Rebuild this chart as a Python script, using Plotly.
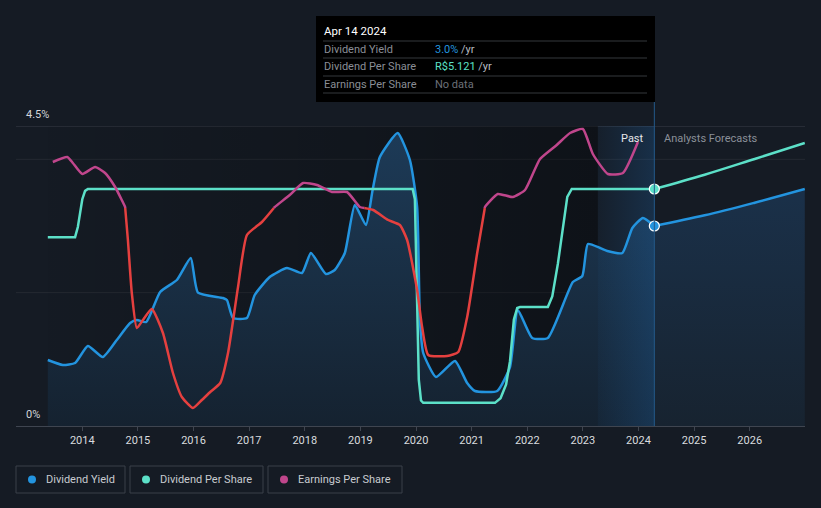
import plotly.graph_objects as go

# ---------------- data (x as decimal years) ----------------
yield_t = [2013.38, 2013.65, 2013.87, 2014.10, 2014.37, 2014.62, 2014.86, 2014.98, 2015.15,
           2015.40, 2015.70, 2015.95, 2016.08, 2016.53, 2016.60, 2016.71, 2016.96, 2017.10,
           2017.37, 2017.68, 2017.95, 2018.11, 2018.38, 2018.54, 2018.72, 2018.90, 2019.10,
           2019.22, 2019.35, 2019.67, 2019.89, 2020.02, 2020.07, 2020.13, 2020.36, 2020.70,
           2020.92, 2021.06, 2021.46, 2021.69, 2021.83, 2022.09, 2022.37, 2022.82, 2022.99,
           2023.09, 2023.31, 2023.44, 2023.71, 2023.89, 2024.08, 2024.285]
yield_pct = [0.99, 0.915, 0.945, 1.20, 1.035, 1.29, 1.545, 1.59, 1.56,
             2.01, 2.19, 2.52, 2.00, 1.92, 1.89, 1.62, 1.62, 1.965,
             2.235, 2.37, 2.295, 2.595, 2.28, 2.34, 2.595, 3.315, 3.015,
             3.54, 4.035, 4.395, 3.99, 3.285, 1.59, 1.095, 0.735, 0.975,
             0.645, 0.525, 0.525, 0.885, 1.74, 1.32, 1.32, 2.16, 2.25,
             2.73, 2.67, 2.625, 2.595, 2.97, 3.12, 3.0]
fc_t = [2024.285, 2025.19, 2026.09, 2026.99]
fc_yield = [3.0, 3.16, 3.35, 3.555]

dps_t = [2013.38, 2013.87, 2013.92, 2014.00, 2014.05, 2014.10, 2019.94, 2019.98, 2020.05,
         2020.09, 2020.13, 2021.42, 2021.52, 2021.62, 2021.69, 2021.76, 2021.82, 2021.87,
         2022.37, 2022.45, 2022.55, 2022.64, 2022.72, 2022.80, 2024.285]
dps = [4.08, 4.08, 4.30, 4.90, 5.08, 5.121, 5.121, 4.90, 1.00,
       0.55, 0.50, 0.50, 0.60, 0.90, 1.40, 2.30, 2.55, 2.57,
       2.57, 2.80, 3.50, 4.30, 4.95, 5.121, 5.121]
fc_dps = [5.121, 5.43, 5.77, 6.115]

eps_t = [2013.47, 2013.73, 2013.83, 2014.00, 2014.23, 2014.41, 2014.59, 2014.71, 2014.77,
         2014.82, 2014.89, 2014.98, 2015.09, 2015.25, 2015.45, 2015.63, 2015.79, 2015.99,
         2016.15, 2016.30, 2016.48, 2016.62, 2016.80, 2016.96, 2017.23, 2017.46, 2017.73,
         2017.97, 2018.22, 2018.49, 2018.76, 2018.99, 2019.23, 2019.50, 2019.71, 2019.84,
         2020.02, 2020.11, 2020.22, 2020.56, 2020.76, 2020.92, 2021.10, 2021.24, 2021.47,
         2021.74, 2021.96, 2022.23, 2022.53, 2022.77, 2023.00, 2023.18, 2023.45, 2023.72,
         2023.99]
eps = [6.60, 6.725, 6.575, 6.30, 6.475, 6.325, 5.975, 5.65, 5.475,
       4.65, 3.325, 2.45, 2.65, 2.925, 2.325, 1.325, 0.725, 0.45,
       0.65, 0.85, 1.075, 1.825, 3.475, 4.775, 5.10, 5.475, 5.775,
       6.075, 6.025, 5.85, 5.85, 5.475, 5.40, 5.15, 5.025, 4.65,
       3.40, 2.475, 1.775, 1.75, 1.85, 2.725, 4.325, 5.475, 5.80,
       5.725, 5.90, 6.675, 7.025, 7.325, 7.425, 6.80, 6.30, 6.325,
       7.10]
EPS_SPLIT = 5.45

year_ticks = list(range(2014, 2027))
year_labels = [str(y) for y in year_ticks]

NOW_T = 2024.285
BAND_T0 = 2023.27

# ---------------- style ----------------
BG = "#151b24"
BLUE = "#2394df"
TEAL = "#5ce0c8"
MAGENTA = "#c0468c"
RED = "#e5403f"
FONT = "Roboto"

X0, X1 = 2012.808, 2026.994
L, R, T, B = 16, 16, 126, 82
W, H = 821, 508
PW, PH = W - L - R, H - T - B


def px(xp):
    return (xp - L) / PW


def py(yp):
    return (H - B - yp) / PH


def split(ts, vs, thr):
    hx, hy, lx, ly = [], [], [], []
    for i, (t, v) in enumerate(zip(ts, vs)):
        if i > 0:
            t0, v0 = ts[i - 1], vs[i - 1]
            if (v0 - thr) * (v - thr) < 0:
                tc = t0 + (thr - v0) * (t - t0) / (v - v0)
                if v0 > thr:
                    hx += [tc, None]; hy += [thr, None]
                    lx.append(tc); ly.append(thr)
                else:
                    lx += [tc, None]; ly += [thr, None]
                    hx.append(tc); hy.append(thr)
        if v >= thr:
            hx.append(t); hy.append(v)
        else:
            lx.append(t); ly.append(v)
    return hx, hy, lx, ly


fig = go.Figure()

# darkening of past region (horizontal gradient)
fig.add_trace(go.Scatter(
    x=[yield_t[0], BAND_T0, BAND_T0, yield_t[0], yield_t[0]], y=[0, 0, 4.5, 4.5, 0],
    fill="toself", mode="lines", line=dict(width=0),
    fillgradient=dict(type="horizontal", start=yield_t[0], stop=BAND_T0,
                      colorscale=[[0, "rgba(0,0,0,0.03)"], [1, "rgba(0,0,0,0.33)"]]),
    hoverinfo="skip", showlegend=False))

# yield area (past)
fig.add_trace(go.Scatter(
    x=yield_t, y=yield_pct, mode="lines",
    line=dict(width=0, shape="spline", smoothing=0.5), fill="tozeroy",
    fillgradient=dict(type="vertical", start=0, stop=4.5,
                      colorscale=[[0, "#152230"], [1, "#1d3b58"]]),
    hoverinfo="skip", showlegend=False))
# yield area (forecast)
fig.add_trace(go.Scatter(
    x=fc_t, y=fc_yield, mode="lines",
    line=dict(width=0, shape="spline", smoothing=1.0), fill="tozeroy",
    fillgradient=dict(type="vertical", start=0, stop=4.5,
                      colorscale=[[0, "#172330"], [1, "#1b3450"]]),
    hoverinfo="skip", showlegend=False))

# last-year highlight band
fig.add_trace(go.Scatter(
    x=[BAND_T0, NOW_T, NOW_T, BAND_T0, BAND_T0], y=[0, 0, 4.5, 4.5, 0],
    fill="toself", mode="lines", line=dict(width=0),
    fillgradient=dict(type="horizontal", start=BAND_T0, stop=NOW_T,
                      colorscale=[[0, "rgba(35,130,220,0.04)"], [1, "rgba(35,130,220,0.20)"]]),
    hoverinfo="skip", showlegend=False))

# EPS
hx, hy, lx, ly = split(eps_t, eps, EPS_SPLIT)
fig.add_trace(go.Scatter(x=lx, y=ly, yaxis="y3", mode="lines",
                         line=dict(color=RED, width=2.5, shape="spline", smoothing=0.5),
                         hoverinfo="skip", showlegend=False))
fig.add_trace(go.Scatter(x=hx, y=hy, yaxis="y3", mode="lines",
                         line=dict(color=MAGENTA, width=2.5, shape="spline", smoothing=0.5),
                         hoverinfo="skip", showlegend=False))

# DPS
fig.add_trace(go.Scatter(x=dps_t, y=dps, yaxis="y2", mode="lines",
                         line=dict(color=TEAL, width=2.5, shape="linear"),
                         hoverinfo="skip", showlegend=False))
fig.add_trace(go.Scatter(x=fc_t, y=fc_dps, yaxis="y2", mode="lines",
                         line=dict(color=TEAL, width=2.5, shape="spline", smoothing=1.0),
                         hoverinfo="skip", showlegend=False))

# Yield
fig.add_trace(go.Scatter(x=yield_t, y=yield_pct, mode="lines",
                         line=dict(color=BLUE, width=2.5, shape="spline", smoothing=0.5),
                         hoverinfo="skip", showlegend=False))
fig.add_trace(go.Scatter(x=fc_t, y=fc_yield, mode="lines",
                         line=dict(color=BLUE, width=2.5, shape="spline", smoothing=1.0),
                         hoverinfo="skip", showlegend=False))

# now markers
fig.add_trace(go.Scatter(x=[NOW_T], y=[fc_dps[0]], yaxis="y2", mode="markers",
                         marker=dict(color=TEAL, size=10, line=dict(color="white", width=1.2)),
                         hoverinfo="skip", showlegend=False))
fig.add_trace(go.Scatter(x=[NOW_T], y=[fc_yield[0]], mode="markers",
                         marker=dict(color=BLUE, size=10, line=dict(color="white", width=1.2)),
                         hoverinfo="skip", showlegend=False))

shapes = []
# grid lines
for gy, col in [(4.5, "#3a3f48"), (4.0, "#252a32"), (2.0, "#252a32")]:
    shapes.append(dict(type="line", xref="paper", yref="y", x0=0, x1=1, y0=gy, y1=gy,
                       line=dict(color=col, width=1), layer="below"))
# now line
shapes.append(dict(type="line", xref="x", yref="paper", x0=NOW_T, x1=NOW_T, y0=0, y1=py(100),
                   line=dict(color="#24598a", width=1)))
# tooltip box
shapes.append(dict(type="rect", xref="paper", yref="paper", x0=px(316), x1=px(655),
                   y0=py(102), y1=py(16), fillcolor="#000000", line=dict(width=0)))
for sy in [41, 58, 76, 93]:
    shapes.append(dict(type="line", xref="paper", yref="paper", x0=px(323), x1=px(647),
                       y0=py(sy), y1=py(sy), line=dict(color="#35383d", width=1)))
# legend boxes
leg = [("Dividend Yield", BLUE, 16, 125), ("Dividend Per Share", TEAL, 130, 263),
       ("Earnings Per Share", MAGENTA, 268, 402)]
annotations = []
for name, col, bx0, bx1 in leg:
    shapes.append(dict(type="rect", xref="paper", yref="paper", x0=px(bx0), x1=px(bx1),
                       y0=py(493), y1=py(466), line=dict(color="#3a4049", width=1)))
    shapes.append(dict(type="circle", xref="paper", yref="paper", x0=px(bx0 + 12), x1=px(bx0 + 20),
                       y0=py(483.5), y1=py(475.5), fillcolor=col, line=dict(width=0)))
    annotations.append(dict(text=name, xref="paper", yref="paper", x=px(bx0 + 28), y=py(479.5),
                            xanchor="left", yanchor="middle", showarrow=False,
                            font=dict(family=FONT, size=11, color="#c8cbd0")))

# axis value labels
annotations.append(dict(text="4.5%", xref="paper", yref="paper", x=px(24), y=py(114.5),
                        xanchor="left", yanchor="middle", showarrow=False,
                        font=dict(family=FONT, size=11, color="#d4d6da")))
annotations.append(dict(text="0%", xref="paper", yref="paper", x=px(24), y=py(414.5),
                        xanchor="left", yanchor="middle", showarrow=False,
                        font=dict(family=FONT, size=11, color="#d4d6da")))
# past / forecast labels
annotations.append(dict(text="Past", xref="paper", yref="paper", x=px(646), y=py(138),
                        xanchor="right", yanchor="middle", showarrow=False,
                        font=dict(family=FONT, size=11, color="#e6e7ea")))
annotations.append(dict(text="Analysts Forecasts", xref="paper", yref="paper", x=px(662), y=py(138),
                        xanchor="left", yanchor="middle", showarrow=False,
                        font=dict(family=FONT, size=11, color="#8b9099")))
# tooltip texts
annotations.append(dict(text="Apr 14 2024", xref="paper", yref="paper", x=px(322), y=py(31),
                        xanchor="left", yanchor="middle", showarrow=False,
                        font=dict(family=FONT, size=11.5, color="#ffffff")))
rows = [("Dividend Yield", f"<span style='color:{BLUE}'>3.0%</span> /yr", 49.5),
        ("Dividend Per Share", f"<span style='color:{TEAL}'>R$5.121</span> /yr", 66.5),
        ("Earnings Per Share", "<span style='color:#6c7079'>No data</span>", 84)]
for lab, val, ry in rows:
    annotations.append(dict(text=lab, xref="paper", yref="paper", x=px(322), y=py(ry),
                            xanchor="left", yanchor="middle", showarrow=False,
                            font=dict(family=FONT, size=11, color="#8a8e96")))
    annotations.append(dict(text=val, xref="paper", yref="paper", x=px(433), y=py(ry),
                            xanchor="left", yanchor="middle", showarrow=False,
                            font=dict(family=FONT, size=11, color="#b8bbc0")))

fig.update_layout(
    width=W, height=H, margin=dict(l=L, r=R, t=T, b=B),
    paper_bgcolor=BG, plot_bgcolor=BG,
    xaxis=dict(range=[X0, X1], tickvals=year_ticks, ticktext=year_labels, showgrid=False,
               zeroline=False, showline=True, linecolor="#3f4550", linewidth=1,
               ticks="outside", ticklen=4, tickcolor="#3f4550",
               tickfont=dict(family=FONT, size=11, color="#d9dbdf"), fixedrange=True),
    yaxis=dict(range=[0, 4.5], visible=False, fixedrange=True),
    yaxis2=dict(range=[0, 6.482], overlaying="y", visible=False, fixedrange=True),
    yaxis3=dict(range=[0, 7.5], overlaying="y", visible=False, fixedrange=True),
    shapes=shapes, annotations=annotations, showlegend=False, hovermode=False,
)

fig.write_html("out.html")
